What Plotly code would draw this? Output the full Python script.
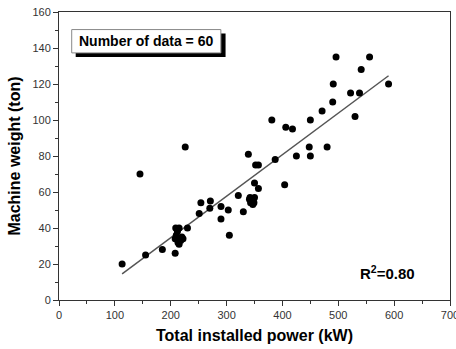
import plotly.graph_objects as go

power_kw = [113, 145, 155, 185, 208, 209, 215, 230, 208, 220, 213, 215, 226,
            254, 271, 270, 251, 290, 290, 303, 305, 321, 330, 339,
            341, 348, 343, 349, 350, 357, 352, 357, 387, 404, 381, 406, 418,
            425, 450, 448, 450, 471, 480, 490, 496, 556, 541, 491, 522, 538,
            590, 530, 210, 218, 222, 345, 350, 342, 212, 347]
weight_ton = [20, 70, 25, 28, 26, 40, 40, 40, 34, 35, 32, 31, 85,
              54, 55, 51, 48, 52, 45, 50, 36, 58, 49, 81,
              56, 56, 54, 54, 65, 62, 75, 75, 78, 64, 100, 96, 95,
              80, 80, 85, 100, 105, 85, 110, 135, 135, 128, 120, 115, 115,
              120, 102, 36, 33, 34, 55, 57, 57, 38, 53]

fit_slope = 0.2308
fit_intercept = -11.6
fit_x = [min(power_kw), max(power_kw)]
fit_y = [fit_intercept + fit_slope * v for v in fit_x]

x_ticks = [0, 100, 200, 300, 400, 500, 600, 700]
y_ticks = [0, 20, 40, 60, 80, 100, 120, 140, 160]

FONT = "Liberation Sans, Arial, sans-serif"

fig = go.Figure()
fig.add_trace(go.Scatter(x=fit_x, y=fit_y, mode="lines",
                         line=dict(color="#555555", width=1.5),
                         showlegend=False, hoverinfo="skip"))
fig.add_trace(go.Scatter(x=power_kw, y=weight_ton, mode="markers",
                         marker=dict(color="black", size=7),
                         showlegend=False))

axis_common = dict(showline=True, linecolor="#333333", linewidth=1, mirror=True,
                   ticks="outside", ticklen=5, tickwidth=1, tickcolor="#333333",
                   showgrid=False, zeroline=False, ticklabeloverflow="allow",
                   automargin=False,
                   tickfont=dict(family=FONT, size=11, color="#333333"))

fig.update_xaxes(range=[0, 700], tickvals=x_ticks,
                 minor=dict(ticks="outside", ticklen=3, dtick=50, tickcolor="#333333"),
                 title=dict(text="<b>Total installed power (kW)</b>",
                            font=dict(family=FONT, size=16, color="black"), standoff=9),
                 **axis_common)
fig.update_yaxes(range=[0, 160], tickvals=y_ticks,
                 minor=dict(ticks="outside", ticklen=3, dtick=10, tickcolor="#333333"),
                 title=dict(text="<b>Machine weight (ton)</b>",
                            font=dict(family=FONT, size=16, color="black"), standoff=7),
                 **axis_common)

# boxed label with drop shadow
fig.add_shape(type="rect", xref="paper", yref="paper",
              x0=0.0427, x1=0.426, y0=0.844, y1=0.925,
              fillcolor="black", line=dict(width=0), layer="above")
fig.add_shape(type="rect", xref="paper", yref="paper",
              x0=0.0325, x1=0.414, y0=0.858, y1=0.939,
              fillcolor="white", line=dict(color="#888888", width=1), layer="above")
fig.add_annotation(xref="paper", yref="paper", x=0.2225, y=0.898,
                   xanchor="center", yanchor="middle",
                   text="<b>Number of data = 60</b>", showarrow=False,
                   font=dict(family=FONT, size=14, color="black"))
fig.add_annotation(xref="paper", yref="paper", x=0.839, y=0.097,
                   xanchor="center", yanchor="middle",
                   text="<b>R<sup>2</sup>=0.80</b>", showarrow=False,
                   font=dict(family=FONT, size=15, color="black"))

fig.update_layout(width=456, height=349,
                  margin=dict(l=59, r=6, t=12, b=49),
                  plot_bgcolor="white", paper_bgcolor="white",
                  font=dict(family=FONT))

fig.write_html("out.html")
